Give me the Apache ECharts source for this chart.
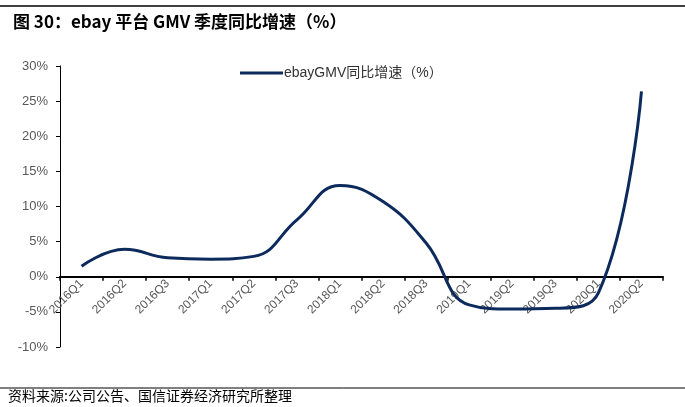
<!DOCTYPE html>
<html>
<head>
<meta charset="utf-8">
<script src="https://cdn.jsdelivr.net/npm/echarts@6/dist/echarts.min.js"></script>
<style>
html,body{margin:0;padding:0;background:#fff;}
#c{width:685px;height:407px;}
</style>
</head>
<body>
<div id="c"></div>
<script>
const categories = ['2016Q1','2016Q2','2016Q3','2017Q1','2017Q2','2017Q3','2018Q1','2018Q2','2018Q3','2019Q1','2019Q2','2019Q3','2020Q1','2020Q2'];
const gmvYoY = [1.5, 3.9, 2.7, 2.5, 2.9, 8.1, 13.0, 10.7, 4.8, -4.0, -4.6, -4.5, -2.3, 26.4];
const yTicks = {min: -10, max: 30, interval: 5};
const seriesName = 'ebayGMV同比增速（%）';
const titleText = '图 30：ebay 平台 GMV 季度同比增速（%）';
const sourceText = '资料来源:公司公告、国信证券经济研究所整理';

const gridTop = 66, gridBottom = 60, H = 407;
const plotH = H - gridTop - gridBottom;
// distance of the zero line above the bottom of the plot
const zeroOffset = plotH * (0 - yTicks.min) / (yTicks.max - yTicks.min);

const chart = echarts.init(document.getElementById('c'));
const latin = 'Arial, "Liberation Sans", sans-serif';
chart.setOption({
  animation: false,
  backgroundColor: '#fff',
  title: {
    text: titleText,
    left: 8, top: 8,
    textStyle: {fontFamily: '"Noto Sans CJK SC", sans-serif', fontSize: 17, fontWeight: 'bold', color: '#000'}
  },
  graphic: [
    {type: 'line', shape: {x1: 0, y1: 6, x2: 685, y2: 6}, style: {stroke: '#000', lineWidth: 1.5}},
    {type: 'line', shape: {x1: 0, y1: 388, x2: 685, y2: 388}, style: {stroke: '#000', lineWidth: 1}},
    {type: 'text', left: 8, top: 389, style: {text: sourceText, fontFamily: '"Noto Sans CJK SC", sans-serif', fontSize: 14, fill: '#000'}}
  ],
  legend: {
    left: 235, top: 61,
    itemWidth: 43, itemHeight: 3, itemGap: 2,
    icon: 'rect',
    textStyle: {fontFamily: latin + ', "Noto Sans CJK SC"', fontSize: 14, color: '#333', padding: [0, 0, 0, -4]},
    data: [seriesName]
  },
  grid: {left: 60, right: 22, top: gridTop, bottom: gridBottom, containLabel: false},
  xAxis: {
    type: 'category',
    data: categories,
    boundaryGap: true,
    offset: -zeroOffset,
    axisLine: {onZero: false, lineStyle: {color: '#000', width: 2}},
    axisTick: {show: true, inside: false, length: 4, lineStyle: {color: '#000', width: 1.5}},
    axisLabel: {rotate: 45, interval: 0, margin: 5, color: '#595959', fontSize: 12, fontFamily: latin},
    splitLine: {show: false}
  },
  yAxis: {
    type: 'value',
    min: yTicks.min, max: yTicks.max, interval: yTicks.interval,
    axisLine: {show: true, lineStyle: {color: '#000', width: 1}},
    axisTick: {show: true, length: 4, lineStyle: {color: '#000'}},
    axisLabel: {formatter: '{value}%', color: '#595959', fontSize: 13, fontFamily: latin, margin: 12},
    splitLine: {show: false}
  },
  series: [{
    name: seriesName,
    type: 'line',
    data: gmvYoY,
    smooth: 0.45,
    symbol: 'none',
    lineStyle: {color: '#0d2a5c', width: 3},
    itemStyle: {color: '#0d2a5c'}
  }]
});
</script>
</body>
</html>
